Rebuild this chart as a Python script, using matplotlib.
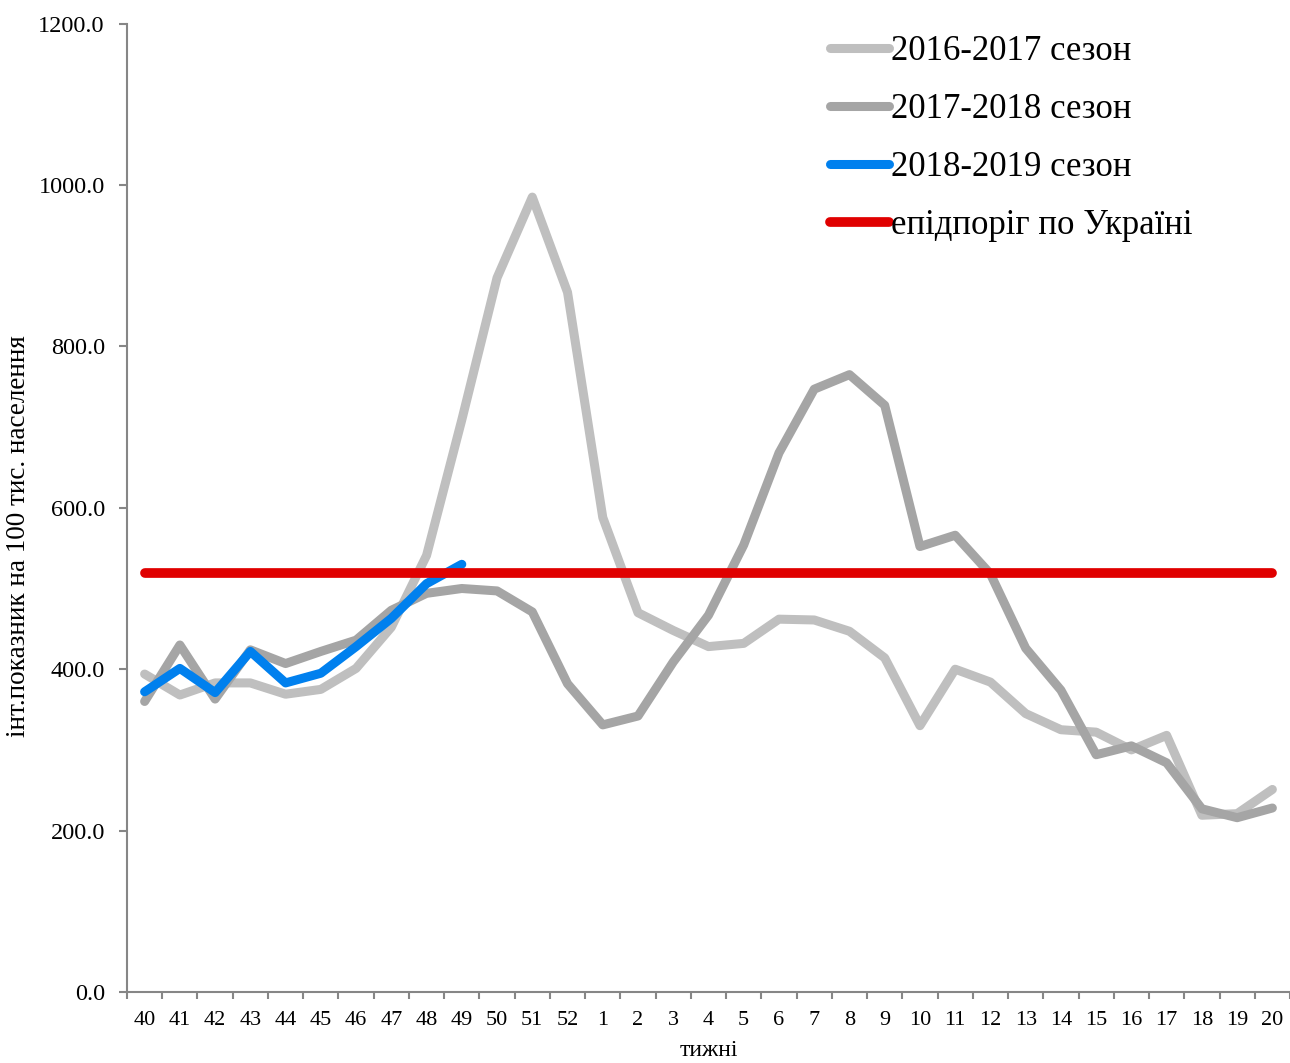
import numpy as np
import matplotlib
matplotlib.use('Agg')
import matplotlib.pyplot as plt

# Дані: тижні епідсезону
weeks = ['40', '41', '42', '43', '44', '45', '46', '47', '48', '49', '50', '51', '52',
         '1', '2', '3', '4', '5', '6', '7', '8', '9', '10', '11', '12', '13', '14',
         '15', '16', '17', '18', '19', '20']

season_2016 = [394, 368, 383, 383, 369, 375, 401, 452, 541, 709, 885, 985, 867,
               588, 470, 448, 428, 432, 462, 461, 447, 414, 330, 400, 384, 345, 325,
               322, 300, 318, 219, 221, 251]
season_2017 = [360, 430, 363, 424, 407, 422, 436, 473, 494, 500, 497, 471, 382,
               331, 342, 409, 467, 554, 668, 747, 765, 727, 552, 566, 518, 426, 374,
               294, 305, 284, 227, 216, 228]
season_2018 = [372, 401, 371, 422, 383, 395, 428, 463, 506, 530]
threshold = 519

plt.rcParams['font.family'] = ['Liberation Serif', 'DejaVu Serif']

fig = plt.figure(figsize=(12.9, 10.63), dpi=100)
ax = fig.add_axes([127 / 1290, 71 / 1063, 1 - 127 / 1290, (992 - 23.6) / 1063])

x = np.arange(len(weeks))
lw = 6.5
ax.plot(x, season_2016, color='#BFBFBF', lw=lw, solid_capstyle='round',
        solid_joinstyle='round', label='2016-2017 сезон')
ax.plot(x, season_2017, color='#A5A5A5', lw=lw, solid_capstyle='round',
        solid_joinstyle='round', label='2017-2018 сезон')
ax.plot(x[:len(season_2018)], season_2018, color='#0080EE', lw=lw,
        solid_capstyle='round', solid_joinstyle='round', label='2018-2019 сезон')
ax.plot(x, [threshold] * len(weeks), color='#E00000', lw=7, solid_capstyle='round',
        label='епідпоріг по Україні')

ax.set_xlim(-0.5, len(weeks) - 0.5)
ax.set_ylim(0, 1200)
ax.set_yticks(np.arange(0, 1201, 200))
ax.set_yticklabels(['%.1f' % v for v in np.arange(0, 1201, 200)])
ax.set_xticks(x)
ax.set_xticklabels(weeks)
ax.set_xticks(np.arange(-0.5, len(weeks), 1), minor=True)

for s in ['top', 'right']:
    ax.spines[s].set_visible(False)
for s in ['left', 'bottom']:
    ax.spines[s].set_color('#868686')
    ax.spines[s].set_linewidth(1.5)

ax.tick_params(axis='y', direction='out', length=6, width=1.5, color='#868686',
               labelsize=17.5, pad=10)
ax.tick_params(axis='x', which='major', length=0, labelsize=16, pad=14)
ax.tick_params(axis='x', which='minor', direction='out', length=5, width=1.5,
               color='#868686')

ax.set_ylabel('інт.показник на 100 тис. населення', fontsize=19.5)
ax.yaxis.set_label_coords(-0.0825, 0.471)
ax.set_xlabel('тижні', fontsize=17, labelpad=7)

ax.legend(loc='upper left', bbox_to_anchor=(830 / 1290, 1 - 35 / 1063),
          bbox_transform=fig.transFigure, frameon=False, fontsize=25,
          handlelength=1.7, handletextpad=0.05, labelspacing=0.72,
          borderpad=0, borderaxespad=0)

fig.savefig('out.png', dpi=100)
